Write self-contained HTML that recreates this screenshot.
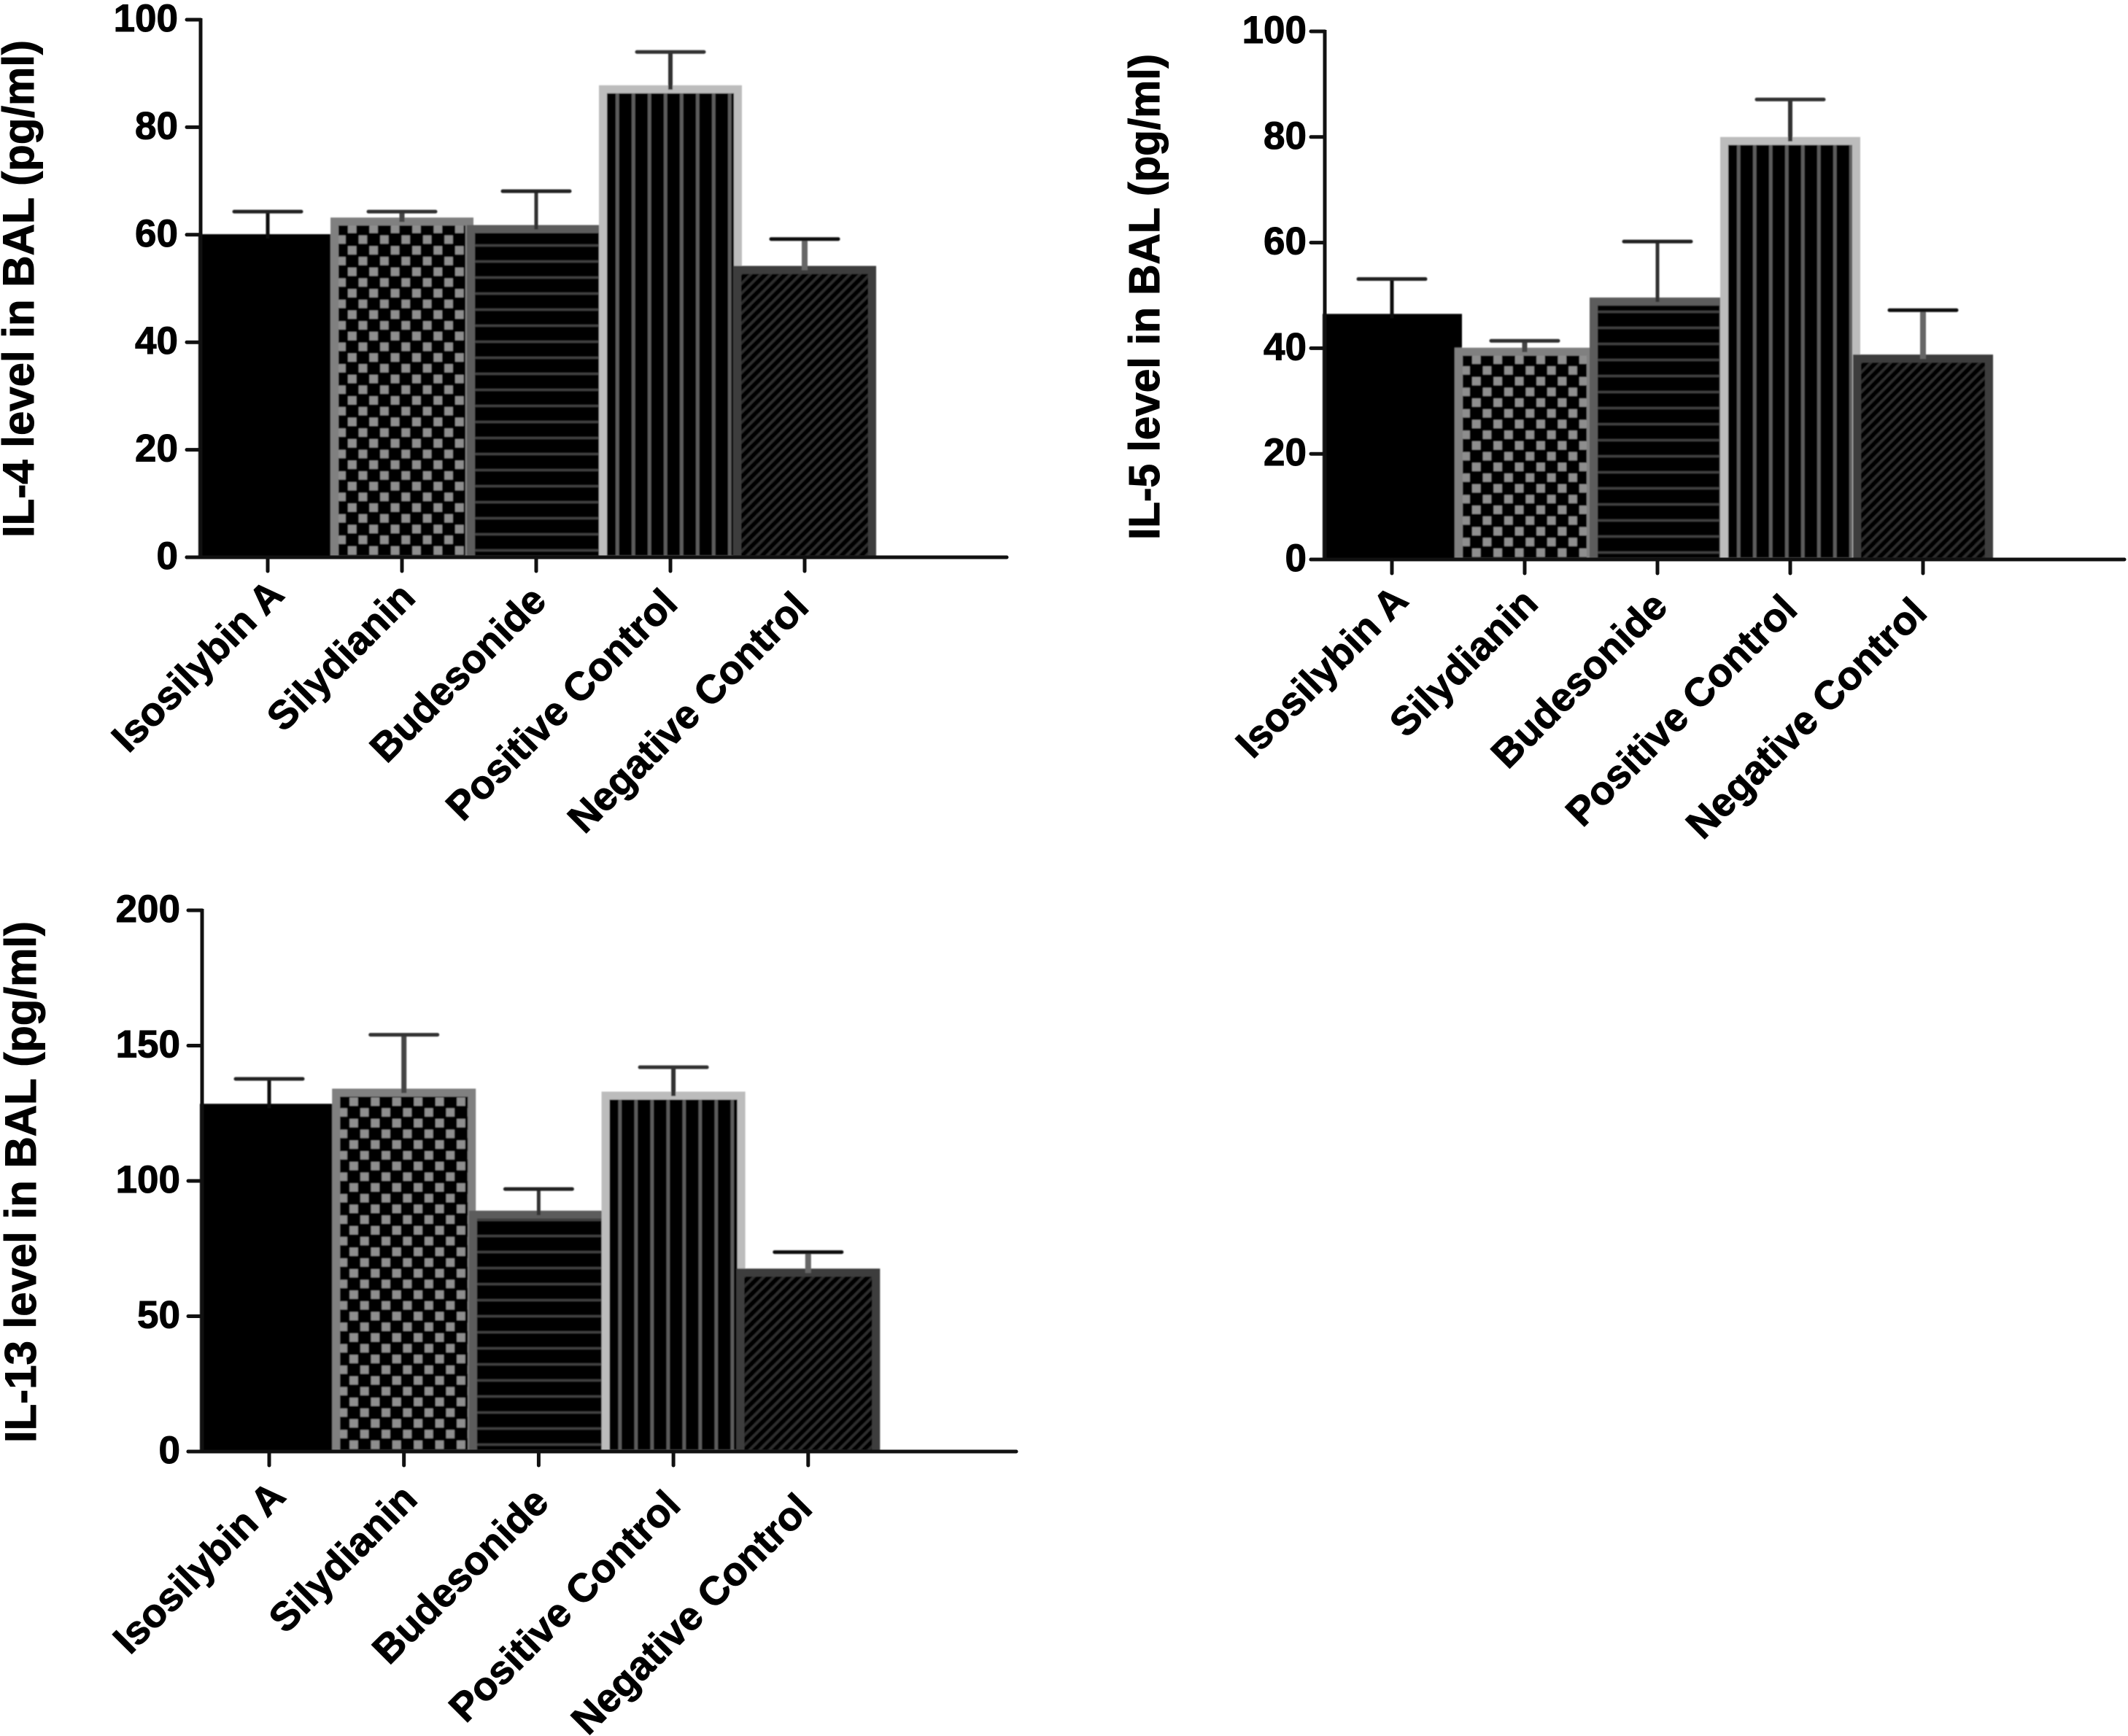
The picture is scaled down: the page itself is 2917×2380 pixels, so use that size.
<!DOCTYPE html>
<html lang="en">
<head>
<meta charset="utf-8">
<title>Cytokine levels in BAL</title>
<style>
  html, body { margin: 0; padding: 0; background: #fff; }
  svg { display: block; }
  text { font-family: "Liberation Sans", sans-serif; font-weight: 700; fill: #000; stroke: #000; stroke-width: 1px; }
</style>
</head>
<body>
<svg id="figure" xmlns="http://www.w3.org/2000/svg" width="2917" height="2380" viewBox="0 0 2917 2380">
  <defs id="defs">
    <filter id="soft" x="-5%" y="-5%" width="110%" height="110%"><feGaussianBlur stdDeviation="0.9"/></filter>
  </defs>
  <rect x="0" y="0" width="2917" height="2380" fill="#fff"/>
  <g id="chart-il4"></g>
  <g id="chart-il5"></g>
  <g id="chart-il13"></g>
</svg>
<script>
// ---- data ----
const categories = ["Isosilybin A", "Silydianin", "Budesonide", "Positive Control", "Negative Control"];

const il4Values = [60.1, 63.2, 61.8, 87.8, 54.2];
const il4ErrorTops = [64.3, 64.3, 68.1, 94.0, 59.2];
const il4Ticks = [0, 20, 40, 60, 80, 100];

const il5Values = [46.5, 40.1, 49.6, 80.0, 38.8];
const il5ErrorTops = [53.1, 41.4, 60.2, 87.1, 47.2];
const il5Ticks = [0, 20, 40, 60, 80, 100];

const il13Values = [128.5, 134.1, 89.0, 133.0, 67.6];
const il13ErrorTops = [137.7, 154.0, 97.0, 142.0, 73.7];
const il13Ticks = [0, 50, 100, 150, 200];

// ---- helpers ----
const NS = "http://www.w3.org/2000/svg";
function make(tag, parent, attrs) {
  const el = document.createElementNS(NS, tag);
  for (const k in attrs) el.setAttribute(k, attrs[k]);
  parent.appendChild(el);
  return el;
}
const defs = document.getElementById("defs");
let patternCount = 0;

function checkerPattern(x, y) {
  const id = "pat" + (++patternCount);
  const c = 29.4;
  const p = make("pattern", defs, { id: id, patternUnits: "userSpaceOnUse", width: c, height: c, x: x, y: y });
  make("rect", p, { x: 0, y: 0, width: c, height: c, fill: "#000" });
  make("rect", p, { x: 0, y: 0, width: 11.5, height: 11.5, fill: "#8e8e8e" });
  make("rect", p, { x: c / 2, y: c / 2, width: 11.5, height: 11.5, fill: "#8e8e8e" });
  return id;
}
function linesPattern(x, y, vertical) {
  const id = "pat" + (++patternCount);
  const c = 22;
  const p = make("pattern", defs, { id: id, patternUnits: "userSpaceOnUse", width: vertical ? c : 10, height: vertical ? 10 : c, x: x, y: y });
  make("rect", p, { x: 0, y: 0, width: vertical ? c : 10, height: vertical ? 10 : c, fill: "#000" });
  make("rect", p, { x: 0, y: 0, width: vertical ? 4.5 : 10, height: vertical ? 10 : 3, fill: vertical ? "#5c5c5c" : "#404040" });
  return id;
}
function hatchPattern(x, y) {
  const id = "pat" + (++patternCount);
  const c = 13.6;
  const p = make("pattern", defs, { id: id, patternUnits: "userSpaceOnUse", width: c, height: c, x: x, y: y });
  make("rect", p, { x: 0, y: 0, width: c, height: c, fill: "#050505" });
  make("path", p, { d: "M-2,2 L2,-2 M0," + c + " L" + c + ",0 M" + (c - 2) + "," + (c + 2) + " L" + (c + 2) + "," + (c - 2), stroke: "#2e2e2e", "stroke-width": 3.5, fill: "none" });
  return id;
}

const barBorders = ["#000", "#808080", "#5c5c5c", "#bcbcbc", "#3e3e3e"];
const stemColors = ["#111", "#444", "#333", "#333", "#666"];
const stemWidths = [5, 7, 5, 6, 8];
const capColors = ["#222", "#333", "#222", "#333", "#111"];

function drawChart(group, geo, title, values, errorTops, ticks) {
  const yMax = ticks[ticks.length - 1];
  const yScale = v => geo.y0 - (v / yMax) * (geo.y0 - geo.yTop);
  const xScale = i => geo.x0 + i * geo.step;

  const marks = make("g", group, { filter: "url(#soft)" });
  
  

  // bars
  values.forEach((v, i) => {
    const cx = xScale(i);
    let left = i === 0 ? geo.axisX - 3 : cx - geo.half;
    if (i === 2) left += 3;
    const right = cx + geo.half;
    const top = yScale(v);
    const b = 11;
    const outer = make("rect", marks, { x: left, y: top, width: right - left, height: geo.y0 - top, fill: barBorders[i] });
    
    
    if (i > 0) {
      const ix = left + b, iy = top + b;
      let fill;
      if (i === 1) fill = checkerPattern(left + 24, geo.y0 - 15);
      if (i === 2) fill = linesPattern(ix, geo.y0 - 11, false);
      if (i === 3) fill = linesPattern(ix + 12, iy, true);
      if (i === 4) fill = hatchPattern(ix, iy);
      const inner = make("rect", marks, { x: ix, y: iy, width: right - left - 2 * b, height: geo.y0 - iy - 2, fill: "url(#" + fill + ")" });
      
      
    }
  });

  // error bars
  errorTops.forEach((e, i) => {
    const cx = xScale(i);
    const stem = make("line", marks, { x1: cx, x2: cx, y1: yScale(e), y2: yScale(values[i]) + 6, stroke: stemColors[i], "stroke-width": stemWidths[i] });
    
    
    const cap = make("line", marks, { x1: cx - 46, x2: cx + 46, y1: yScale(e), y2: yScale(e), stroke: capColors[i], "stroke-width": 5, "stroke-linecap": "round" });
    
    
  });

  // axes
  const yAxis = make("line", group, { x1: geo.axisX, x2: geo.axisX, y1: geo.yTop - 2, y2: geo.y0, stroke: "#111", "stroke-width": 5 });
  
  
  const xAxis = make("line", group, { x1: geo.axisX - 19, x2: geo.xEnd, y1: geo.y0, y2: geo.y0, stroke: "#111", "stroke-width": 5, "stroke-linecap": "round" });
  
  

  ticks.forEach(t => {
    const y = yScale(t);
    const tick = make("line", group, { x1: geo.axisX - 19, x2: geo.axisX, y1: y, y2: y, stroke: "#111", "stroke-width": 5, "stroke-linecap": "round" });
    
    
    const label = make("text", group, { x: geo.tickLabelX, y: y + 16, "text-anchor": "end", "font-size": 53 });
    label.textContent = String(t);
    
    
  });

  categories.forEach((c, i) => {
    const x = xScale(i);
    const tick = make("line", group, { x1: x, x2: x, y1: geo.y0, y2: geo.y0 + 19, stroke: "#111", "stroke-width": 5, "stroke-linecap": "round" });
    
    
    const lx = x + 25 - 4.2 * i, ly = geo.y0 + geo.labelDy + 4.2 * i;
    const label = make("text", group, { x: lx, y: ly, "text-anchor": "end", "font-size": 54.8, transform: "rotate(-45 " + lx + " " + ly + ")" });
    label.textContent = c;
    
    
  });

  const ty = make("text", group, { x: geo.titleX, y: geo.titleY, "font-size": geo.titleSize, textLength: geo.titleLen, lengthAdjust: "spacingAndGlyphs", transform: "rotate(-90 " + geo.titleX + " " + geo.titleY + ")" });
  ty.textContent = title;
  
  
}

drawChart(document.getElementById("chart-il4"),
  { x0: 367, step: 184, half: 98, axisX: 275, xEnd: 1380, y0: 764, yTop: 27, tickLabelX: 244, labelDy: 54, titleX: 46, titleY: 737, titleLen: 682, titleSize: 60 },
  "IL-4 level in BAL (pg/ml)", il4Values, il4ErrorTops, il4Ticks);

drawChart(document.getElementById("chart-il5"),
  { x0: 1908, step: 182, half: 96, axisX: 1816, xEnd: 2912, y0: 767, yTop: 43, tickLabelX: 1791, labelDy: 59, titleX: 1589, titleY: 740, titleLen: 666, titleSize: 59 },
  "IL-5 level in BAL (pg/ml)", il5Values, il5ErrorTops, il5Ticks);

drawChart(document.getElementById("chart-il13"),
  { x0: 369, step: 184.7, half: 98.5, axisX: 277, xEnd: 1393, y0: 1990, yTop: 1248, tickLabelX: 247, labelDy: 64, titleX: 49, titleY: 1978, titleLen: 715, titleSize: 60 },
  "IL-13 level in BAL (pg/ml)", il13Values, il13ErrorTops, il13Ticks);
</script>
</body>
</html>
